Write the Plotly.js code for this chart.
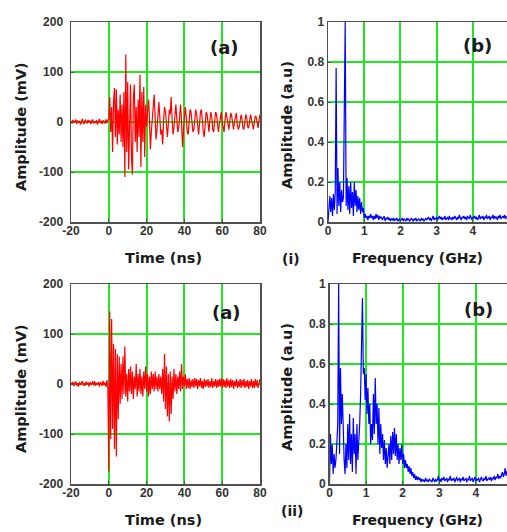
<!DOCTYPE html>
<html>
<head>
<meta charset="utf-8">
<script src="https://cdn.plot.ly/plotly-3.0.1.min.js"></script>
<style>html,body{margin:0;padding:0;background:#fff;}#chart{width:507px;height:532px;}</style>
</head>
<body>
<div id="chart"></div>
<script>
// ---------- DATA ----------
// Time signals, sampled every 0.5 ns from -20 ns to 80 ns
const timeStart = -20;      // ns
const timeStep = 0.5;       // ns
const signalTop = [
  2,-3,4,-2,1,5,-4,3,-1,2,-5,3,6,-2,-4,5,2,-3,4,-1,
  3,-4,2,5,-3,1,-2,4,-5,3,6,-2,2,-4,3,1,-3,5,-2,4,
  5,50,-20,30,-60,40,68,-30,65,-45,25,-25,55,-40,35,-50,60,-110,135,-60,
  80,-95,40,75,-70,-105,50,75,-40,30,-60,45,-30,95,-90,60,-40,70,-70,35,
  -10,20,45,10,-55,-20,15,30,55,5,-35,-15,20,40,10,-25,-15,-45,5,30,
  20,-10,-30,-5,25,15,50,5,-25,-10,20,35,5,-20,-10,15,35,0,-50,-15,
  15,30,10,-20,-25,5,25,20,-5,-20,-15,10,25,15,-15,-25,-5,20,25,0,
  -20,-30,0,20,15,-10,-20,5,20,10,-15,-20,0,20,15,-10,-20,-5,15,20,
  0,-15,-20,5,20,10,-10,-15,0,18,12,-8,-15,0,15,18,-5,-15,-10,10,
  15,5,-12,-15,5,15,8,-10,-12,5,15,5,-10,-15,0,12,10,-8,-12,5,
  15
];
const signalBottom = [
  3,-2,4,-4,2,5,-3,1,-5,4,-2,3,6,-3,2,-4,5,-1,3,-5,
  4,-2,1,5,-3,6,-4,2,-1,4,-5,3,2,-4,6,-2,3,-6,8,-5,
  -175,145,-110,130,-90,80,-130,70,-145,60,-70,55,-40,40,-30,55,-20,75,-25,20,
  -35,30,-15,35,-20,25,-30,15,-10,40,-25,20,-15,30,-20,15,-25,25,-10,35,
  -15,20,-25,15,-20,25,-10,20,-15,25,-10,15,-15,20,-10,15,-20,30,-35,60,
  -50,35,-65,20,-75,25,-60,15,-30,30,-15,20,-20,15,-10,25,-15,40,-10,15,
  -5,20,-10,10,-8,12,-10,8,-6,10,-8,12,-5,10,-10,8,-5,12,-8,6,
  -10,10,-6,8,-5,10,-8,6,-6,12,-8,6,-5,10,-8,8,-6,10,-5,12,
  -8,10,-6,8,-8,12,-5,8,-8,10,-6,8,-10,6,-5,10,-8,6,-6,10,
  -8,8,-5,10,-8,6,-6,8,-10,6,-5,10,-8,6,-8,10,-5,8,-8,6,
  10
];
// Spectra, sampled every 0.025 GHz from 0 GHz
const freqStart = 0;        // GHz
const freqStep = 0.025;     // GHz
const spectrumTop = [
  0.00,0.08,0.13,0.05,0.12,0.03,0.14,0.06,0.15,0.77,
  0.04,0.27,0.08,0.20,0.05,0.16,0.10,0.12,0.70,1.00,
  0.08,0.22,0.06,0.18,0.04,0.20,0.07,0.15,0.03,0.20,
  0.08,0.16,0.05,0.13,0.06,0.12,0.04,0.10,0.05,0.07,
  0.02,0.04,0.02,0.03,0.01,0.03,0.02,0.04,0.02,0.03,
  0.01,
  0.03,0.015,0.04,0.02,0.035,0.01,0.03,0.02,0.025,0.01,
  0.02,0.03,0.005,0.02,0.015,0.025,0.01,0.02,0.005,0.015,
  0.01,0.02,0.005,0.015,0.01,0.02,0.005,0.01,0.015,0.005,
  0.01,0.02,0.005,0.015,0.01,0.005,0.02,0.01,0.015,0.005,
  0.01,0.02,0.01,0.005,0.015,0.01,0.02,0.005,0.01,0.015,
  0.01,0.005,0.02,0.01,0.015,0.005,0.01,0.02,0.01,0.015,
  0.025,0.01,0.02,0.005,0.015,0.03,0.01,0.02,0.015,0.025,
  0.01,0.02,0.03,0.015,0.025,0.01,0.02,0.015,0.03,0.01,
  0.02,0.025,0.01,0.03,0.015,0.02,0.01,0.025,0.015,0.03,
  0.02,0.01,0.025,0.015,0.035,0.02,0.01,0.025,0.02,0.03,
  0.015,0.025,0.01,0.03,0.02,0.015,0.035,0.02,0.01,0.025,
  0.02,0.03,0.015,0.025,0.01,0.02,0.035,0.015,0.025,0.02,
  0.03,0.01,0.025,0.02,0.035,0.015,0.02,0.03,0.01,0.025,
  0.02,0.035,0.015,0.03,0.02,0.025,0.01,0.03,0.02,0.035,
  0.015,0.025,0.03,0.02,0.035,0.015,0.03
];
const spectrumBottom = [
  0.00,0.25,0.10,0.20,0.05,0.15,0.08,0.12,0.20,0.30,
  1.00,0.15,0.58,0.30,0.45,0.20,0.12,0.05,0.20,0.08,
  0.30,0.12,0.35,0.10,0.25,0.06,0.33,0.15,0.25,0.05,
  0.30,0.12,0.20,0.30,0.45,0.80,0.93,0.55,0.58,0.42,
  0.55,0.35,0.48,0.30,0.40,0.20,0.30,0.22,0.45,0.25,
  0.53,0.30,0.40,0.20,0.38,0.15,0.30,0.18,0.25,0.12,
  0.22,0.10,0.18,0.08,0.15,0.20,0.10,0.24,0.12,0.26,
  0.15,0.28,0.14,0.25,0.12,0.20,0.10,0.18,0.12,0.20,
  0.10,0.15,0.08,0.12,0.08,0.10,0.06,0.09,0.05,0.08,
  0.04,0.06,0.03,0.05,0.02,0.04,0.02,0.035,
  0.02,0.03,0.01,0.025,0.015,0.02,0.01,0.03,0.015,0.02,
  0.01,0.025,0.02,0.015,0.01,0.03,0.02,0.01,0.025,0.015,
  0.02,0.04,0.015,0.025,0.01,0.03,0.02,0.035,0.015,0.02,
  0.03,0.01,0.025,0.02,0.04,0.015,0.025,0.02,0.03,0.01,
  0.025,0.035,0.015,0.02,0.03,0.01,0.025,0.02,0.035,0.015,
  0.02,0.03,0.01,0.025,0.02,0.04,0.015,0.025,0.03,0.01,
  0.02,0.035,0.015,0.025,0.02,0.03,0.01,0.025,0.035,0.02,
  0.015,0.03,0.02,0.04,0.015,0.025,0.03,0.02,0.035,0.015,
  0.03,0.025,0.04,0.02,0.035,0.03,0.05,0.025,0.04,0.03,
  0.045,0.06,0.035,0.05,0.08,0.04,0.065,0.05,0.07,0.04
];
// Tick labels
const timeTicks = [-20, 0, 20, 40, 60, 80];
const timeTickText = ['-20', '0', '20', '40', '60', '80'];
const mvTicks = [-200, -100, 0, 100, 200];
const mvTickText = ['-200', '-100', '0', '100', '200'];
const ghzTicks = [0, 1, 2, 3, 4];
const ghzTickText = ['0', '1', '2', '3', '4'];
const auTicks = [0, 0.2, 0.4, 0.6, 0.8, 1];
const auTickText = ['0', '0.2', '0.4', '0.6', '0.8', '1'];

// ---------- LAYOUT ----------
const W = 507, H = 532;
const px = v => v / W;
const py = v => 1 - v / H;
const TICKFONT = 'Liberation Sans, Arial, sans-serif';
const LABELFONT = 'DejaVu Sans, Verdana, sans-serif';

function axis(extra) {
  return Object.assign({
    showline: true, linecolor: '#505050', linewidth: 1.5, mirror: true,
    showgrid: true, gridcolor: '#22e622', gridwidth: 2,
    zeroline: false, ticks: 'inside', ticklen: 3, tickcolor: '#505050',
    tickfont: {family: TICKFONT, size: 12, color: '#333', weight: 'bold'},
    tickmode: 'array', fixedrange: true
  }, extra);
}

const topY = [py(222), py(22)];
const botY = [py(484), py(284)];

const traces = [
  {y: signalTop, x0: timeStart, dx: timeStep, type: 'scatter', mode: 'lines',
   line: {color: '#ff0000', width: 1.2}, xaxis: 'x', yaxis: 'y'},
  {y: spectrumTop, x0: freqStart, dx: freqStep, type: 'scatter', mode: 'lines',
   line: {color: '#0000ff', width: 1.2}, xaxis: 'x2', yaxis: 'y2'},
  {y: signalBottom, x0: timeStart, dx: timeStep, type: 'scatter', mode: 'lines',
   line: {color: '#ff0000', width: 1.2}, xaxis: 'x3', yaxis: 'y3'},
  {y: spectrumBottom, x0: freqStart, dx: freqStep, type: 'scatter', mode: 'lines',
   line: {color: '#0000ff', width: 1.2}, xaxis: 'x4', yaxis: 'y4'}
];

function ann(text, x, y, size, angle) {
  return {text: text, x: px(x), y: py(y), xref: 'paper', yref: 'paper',
    xanchor: 'center', yanchor: 'middle', showarrow: false, textangle: angle || 0,
    font: {family: LABELFONT, size: size, color: '#1a1a1a', weight: 'bold'}};
}

const layout = {
  width: W, height: H, autosize: false,
  margin: {l: 0, r: 0, t: 0, b: 0},
  paper_bgcolor: '#ffffff', plot_bgcolor: '#ffffff',
  showlegend: false,
  xaxis: axis({domain: [px(71), px(260)], range: [-20, 80], tickvals: timeTicks, ticktext: timeTickText, anchor: 'y', ticklabelstandoff: -3}),
  yaxis: axis({domain: topY, range: [-200, 200], tickvals: mvTicks, ticktext: mvTickText, anchor: 'x', ticklabelstandoff: 4}),
  xaxis2: axis({domain: [px(328), 1], range: [0, 4.94], tickvals: ghzTicks, ticktext: ghzTickText, anchor: 'y2', ticklabelstandoff: -3}),
  yaxis2: axis({domain: topY, range: [0, 1], tickvals: auTicks, ticktext: auTickText, anchor: 'x2', mirror: false}),
  xaxis3: axis({domain: [px(71), px(260)], range: [-20, 80], tickvals: timeTicks, ticktext: timeTickText, anchor: 'y3', ticklabelstandoff: -3}),
  yaxis3: axis({domain: botY, range: [-200, 200], tickvals: mvTicks, ticktext: mvTickText, anchor: 'x3', ticklabelstandoff: 4}),
  xaxis4: axis({domain: [px(329.5), 1], range: [0, 4.85], tickvals: ghzTicks, ticktext: ghzTickText, anchor: 'y4', ticklabelstandoff: -3}),
  yaxis4: axis({domain: botY, range: [0, 1], tickvals: auTicks, ticktext: auTickText, anchor: 'x4', mirror: false}),
  annotations: [
    ann('Amplitude (mV)', 21, 127, 14.5, -90),
    ann('Time (ns)', 163, 258, 14.5),
    ann('Amplitude (a.u)', 287, 125, 14.5, -90),
    ann('Frequency (GHz)', 417, 258, 14),
    ann('(i)', 291, 259, 14),
    ann('(a)', 224, 47, 18),
    ann('(b)', 477, 46, 18),
    ann('Amplitude (mV)', 21, 389, 14.5, -90),
    ann('Time (ns)', 163, 520, 14.5),
    ann('Amplitude (a.u)', 287, 387, 14.5, -90),
    ann('Frequency (GHz)', 417, 520, 14),
    ann('(ii)', 292, 511, 14),
    ann('(a)', 226, 312, 18),
    ann('(b)', 478, 309, 18)
  ]
};

Plotly.newPlot('chart', traces, layout, {displayModeBar: false, staticPlot: true});
</script>
</body>
</html>
